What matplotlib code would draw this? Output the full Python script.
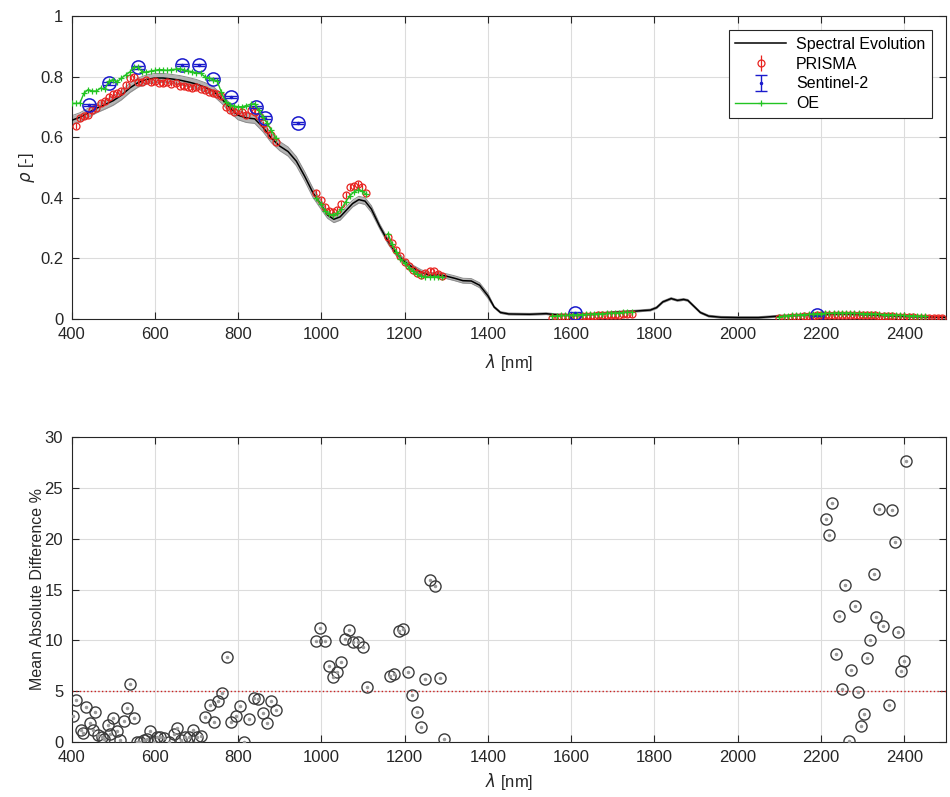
import numpy as np
import matplotlib
matplotlib.use("Agg")
import matplotlib.pyplot as plt

plt.rcParams['font.family'] = ['Liberation Sans', 'DejaVu Sans']

# Spectral Evolution field spectrum (black line) and its uncertainty half-width
se_wl = [400, 420, 440, 460, 480, 500, 520, 540, 560, 580, 600, 620, 640, 660, 680, 700,
         720, 740, 760, 780, 800, 820, 840, 860, 880, 900, 920, 940, 960, 980, 1000,
         1015, 1030, 1045, 1060, 1075, 1090, 1105, 1120,
         1140, 1160, 1180, 1200, 1220, 1240, 1260, 1280, 1300, 1320, 1340, 1360, 1380, 1400,
         1415, 1430, 1450, 1500, 1540, 1560, 1600, 1650, 1700, 1750,
         1790, 1805, 1820, 1840, 1855, 1870, 1880, 1895, 1910, 1930, 1960, 2000, 2050,
         2100, 2150, 2200, 2250, 2300, 2350, 2400, 2450, 2500]
se_rho = [0.655, 0.665, 0.680, 0.695, 0.707, 0.720, 0.738, 0.762, 0.780, 0.790, 0.795, 0.795,
          0.792, 0.788, 0.782, 0.775, 0.765, 0.752, 0.727, 0.697, 0.672, 0.663, 0.660, 0.632,
          0.596, 0.570, 0.552, 0.520, 0.470, 0.415, 0.375,
          0.342, 0.328, 0.336, 0.358, 0.380, 0.393, 0.388, 0.362,
          0.305, 0.255, 0.215, 0.188, 0.168, 0.153, 0.143, 0.145, 0.140, 0.133, 0.125, 0.124,
          0.110, 0.075,
          0.038, 0.020, 0.015, 0.014, 0.016, 0.013, 0.011, 0.014, 0.020, 0.024,
          0.028, 0.036, 0.055, 0.066, 0.060, 0.063, 0.060, 0.040, 0.020, 0.008, 0.004, 0.003, 0.003,
          0.008, 0.011, 0.013, 0.015, 0.013, 0.010, 0.007, 0.005, 0.004]
se_unc = [0.015] * 31 + [0.011] * 8 + [0.008] * 14 + [0.003] * 32

# PRISMA reflectance (red), split into the retained spectral windows
pr_wl_vnir = np.arange(410, 900, 10)
pr_vnir = [0.636, 0.662, 0.668, 0.672, 0.688, 0.697, 0.712, 0.720, 0.732, 0.742,
           0.747, 0.752, 0.772, 0.795, 0.800, 0.782, 0.783, 0.787, 0.781, 0.785,
           0.780, 0.778, 0.783, 0.776, 0.777, 0.770, 0.768, 0.766, 0.762, 0.765,
           0.760, 0.757, 0.750, 0.745, 0.742, 0.735, 0.700, 0.690, 0.684, 0.688,
           0.684, 0.674, 0.688, 0.684, 0.668, 0.645, 0.625, 0.605, 0.585]
pr_wl_s1 = np.arange(988, 1110, 10)
pr_s1 = [0.416, 0.392, 0.368, 0.355, 0.353, 0.359, 0.380, 0.408, 0.434, 0.438, 0.444, 0.436, 0.414]
pr_wl_s2 = np.arange(1160, 1300, 10)
pr_s2 = [0.268, 0.248, 0.226, 0.205, 0.188, 0.172, 0.160, 0.150, 0.145, 0.152, 0.158, 0.156,
         0.148, 0.142]
pr_wl_s3 = np.arange(1555, 1750, 10)
pr_s3 = [0.002, 0.003, 0.004, 0.004, 0.005, 0.006, 0.006, 0.007, 0.007, 0.008,
         0.009, 0.010, 0.010, 0.011, 0.012, 0.012, 0.013, 0.014, 0.014, 0.015]
pr_wl_s4 = np.arange(2100, 2500, 10)
pr_s4 = [0.001, 0.002, 0.003, 0.004, 0.005, 0.006, 0.007, 0.008, 0.009, 0.010,
         0.010, 0.011, 0.012, 0.012, 0.013, 0.013, 0.013, 0.013, 0.012, 0.012,
         0.011, 0.011, 0.010, 0.010, 0.009, 0.008, 0.008, 0.007, 0.006, 0.006,
         0.005, 0.004, 0.004, 0.003, 0.003, 0.002, 0.002, 0.001, 0.001, 0.001]
pr_err = 0.009

# Sentinel-2 band reflectance (blue)
s2_wl = [443, 490, 560, 665, 705, 740, 783, 842, 865, 945, 1610, 2190]
s2_rho = [0.706, 0.777, 0.830, 0.838, 0.838, 0.792, 0.733, 0.700, 0.664, 0.646, 0.017, 0.012]
s2_err = 0.004

# Optimal-estimation retrieval (green)
oe_wl_vnir = np.arange(400, 900, 10)
oe_vnir = [0.711, 0.711, 0.712, 0.745, 0.757, 0.752, 0.752, 0.762, 0.758, 0.785,
           0.790, 0.782, 0.795, 0.805, 0.815, 0.830, 0.830, 0.815, 0.815, 0.818,
           0.820, 0.823, 0.822, 0.820, 0.823, 0.824, 0.826, 0.822, 0.818, 0.816,
           0.812, 0.810, 0.800, 0.795, 0.790, 0.784, 0.748, 0.717, 0.707, 0.702,
           0.700, 0.700, 0.704, 0.708, 0.710, 0.688, 0.665, 0.645, 0.622, 0.598]
oe_wl_s1 = pr_wl_s1
oe_s1 = [0.398, 0.378, 0.357, 0.345, 0.342, 0.348, 0.362, 0.385, 0.405, 0.418, 0.425, 0.422, 0.410]
oe_wl_s2 = pr_wl_s2
oe_s2 = [0.280, 0.245, 0.220, 0.198, 0.182, 0.168, 0.156, 0.146, 0.140, 0.137, 0.137, 0.138,
         0.138, 0.136]
oe_wl_s3 = pr_wl_s3
oe_s3 = [0.008, 0.009, 0.010, 0.010, 0.011, 0.012, 0.012, 0.013, 0.014, 0.014,
         0.015, 0.016, 0.016, 0.017, 0.018, 0.018, 0.019, 0.020, 0.020, 0.021]
oe_wl_s4 = np.arange(2100, 2460, 10)
oe_s4 = [0.006, 0.008, 0.009, 0.010, 0.011, 0.012, 0.013, 0.014, 0.015, 0.016,
         0.016, 0.017, 0.017, 0.018, 0.018, 0.018, 0.018, 0.018, 0.017, 0.017,
         0.016, 0.016, 0.015, 0.015, 0.014, 0.013, 0.013, 0.012, 0.011, 0.011,
         0.010, 0.009, 0.009, 0.008, 0.008, 0.007]

# Mean absolute difference per band (%)
mad_wl = [403, 412, 422, 428, 435, 444, 451, 457, 463, 473, 479, 487, 493, 500, 509, 517,
          525, 533, 541, 549, 557, 565, 573, 581, 589, 598, 606, 613, 621, 633, 645, 653,
          662, 673, 681, 691, 701, 711, 721, 733, 743, 753, 762, 773, 783, 795, 805, 815,
          827, 839, 849, 859, 869, 880, 892,
          988, 997, 1008, 1019, 1028, 1037, 1046, 1057, 1066, 1077, 1088, 1100, 1110,
          1164, 1175, 1186, 1196, 1207, 1218, 1229, 1240, 1250, 1262, 1274, 1284, 1295,
          2211, 2219, 2226, 2235, 2242, 2250, 2258, 2266, 2272, 2281, 2288, 2295, 2304,
          2310, 2318, 2326, 2332, 2339, 2348, 2363, 2370, 2377, 2384, 2392, 2400, 2405]
mad_val = [2.56, 4.13, 1.18, 0.85, 3.47, 1.9, 1.18, 2.98, 0.69, 0.52, 0.33, 1.67, 0.75, 2.33,
           1.11, 0.2, 2.1, 3.38, 5.67, 2.39, 0.03, 0.0, 0.2, 0.3, 1.08, 0.0, 0.5, 0.5, 0.4,
           0.0, 0.8, 1.34, 0.2, 0.5, 0.5, 1.18, 0.5, 0.62, 2.49, 3.6, 2.0, 4.03, 4.85, 8.33,
           1.94, 2.56, 3.54, 0.0, 2.29, 4.36, 4.2, 2.88, 1.84, 4.03, 3.15,
           9.96, 11.18, 9.93, 7.5, 6.42, 6.85, 7.87, 10.13, 11.0, 9.8, 9.83, 9.37, 5.38,
           6.49, 6.72, 10.9, 11.08, 6.9, 4.62, 3.0, 1.5, 6.16, 15.93, 15.34, 6.26, 0.3,
           21.9, 20.4, 23.5, 8.7, 12.4, 5.2, 15.4, 0.1, 7.1, 13.4, 4.95, 1.6, 2.75,
           8.3, 10.0, 16.5, 12.3, 22.9, 11.4, 3.67, 22.8, 19.7, 10.85, 6.98, 7.96, 27.6]
mad_threshold = 5

RED = '#e8231f'
BLUE = '#1a1acc'
GREEN = '#22c422'
AXC = '#262626'


def style(ax):
    ax.tick_params(direction='in', top=True, right=True, length=5, width=0.8,
                   colors=AXC, labelsize=12, pad=6)
    ax.grid(True, color='#dcdcdc', lw=0.8)
    ax.set_axisbelow(True)
    for s in ax.spines.values():
        s.set_color(AXC)
        s.set_linewidth(0.8)


fig = plt.figure(figsize=(9.5, 7.97), dpi=100)
ax1 = fig.add_axes([71.5 / 950, 1 - 318.5 / 797, 874.5 / 950, 302.5 / 797])
ax2 = fig.add_axes([71.5 / 950, 1 - 742 / 797, 874.5 / 950, 305 / 797])

# --- top: reflectance spectra ---
se_lo = np.array(se_rho) - np.array(se_unc)
se_hi = np.array(se_rho) + np.array(se_unc)
ax1.fill_between(se_wl, se_lo, se_hi, color='#b4b4b4', lw=0, zorder=2)
ax1.plot(se_wl, se_lo, color='#8c8c8c', lw=0.7, zorder=2)
ax1.plot(se_wl, se_hi, color='#8c8c8c', lw=0.7, zorder=2)
h_se, = ax1.plot(se_wl, se_rho, color='k', lw=1.1, zorder=3)

pr_segments = [(pr_wl_vnir, pr_vnir), (pr_wl_s1, pr_s1), (pr_wl_s2, pr_s2),
               (pr_wl_s3, pr_s3), (pr_wl_s4, pr_s4)]
for wl, rho in pr_segments:
    h_pr = ax1.errorbar(wl, rho, yerr=pr_err, fmt='o', ms=5, mfc='none', mec=RED,
                        mew=0.9, ecolor=RED, elinewidth=0.9, capsize=0, zorder=4)

ax1.plot(s2_wl, s2_rho, 'o', ms=9.5, mfc='none', mec=BLUE, mew=1.1, zorder=5)
h_s2 = ax1.errorbar(s2_wl, s2_rho, yerr=s2_err, fmt='.', ms=3, color=BLUE,
                    elinewidth=1.0, capsize=4, capthick=1.0, zorder=5)

oe_segments = [(oe_wl_vnir, oe_vnir), (oe_wl_s1, oe_s1), (oe_wl_s2, oe_s2),
               (oe_wl_s3, oe_s3), (oe_wl_s4, oe_s4)]
for wl, rho in oe_segments:
    h_oe, = ax1.plot(wl, rho, '-+', color=GREEN, lw=1.0, ms=5, mew=0.9, zorder=6)

ax1.set_xlim(400, 2500)
ax1.set_ylim(0, 1)
ax1.set_xticks(np.arange(400, 2401, 200))
ax1.set_yticks([0, 0.2, 0.4, 0.6, 0.8, 1])
ax1.set_yticklabels(['0', '0.2', '0.4', '0.6', '0.8', '1'])
ax1.set_xlabel(r'$\lambda$ [nm]', fontsize=12, color=AXC, labelpad=7)
ax1.set_ylabel(r'$\rho$ [-]', fontsize=12, color=AXC, labelpad=2)
style(ax1)

leg = ax1.legend([h_se, h_pr, h_s2, h_oe], ['Spectral Evolution', 'PRISMA', 'Sentinel-2', 'OE'],
                 loc='upper right', fontsize=11.5, handlelength=3.2, labelspacing=0.3,
                 borderaxespad=0.9, borderpad=0.4, handletextpad=0.6,
                 fancybox=False, framealpha=1, edgecolor=AXC)
leg.get_frame().set_linewidth(0.8)

# --- bottom: mean absolute difference ---
ax2.axhline(mad_threshold, color='#cc1f1f', ls=':', lw=1.0, zorder=2)
ax2.plot(mad_wl, mad_val, 'o', ms=8, mfc='none', mec='#3c3c3c', mew=1.0, zorder=3)
ax2.plot(mad_wl, mad_val, '.', ms=3, color='#9a9a9a', zorder=3)
ax2.set_xlim(400, 2500)
ax2.set_ylim(0, 30)
ax2.set_xticks(np.arange(400, 2401, 200))
ax2.set_yticks(np.arange(0, 31, 5))
ax2.set_xlabel(r'$\lambda$ [nm]', fontsize=12, color=AXC, labelpad=4)
ax2.set_ylabel('Mean Absolute Difference %', fontsize=11.5, color=AXC, labelpad=0)
style(ax2)

fig.savefig('out.png', dpi=100, facecolor='white')
